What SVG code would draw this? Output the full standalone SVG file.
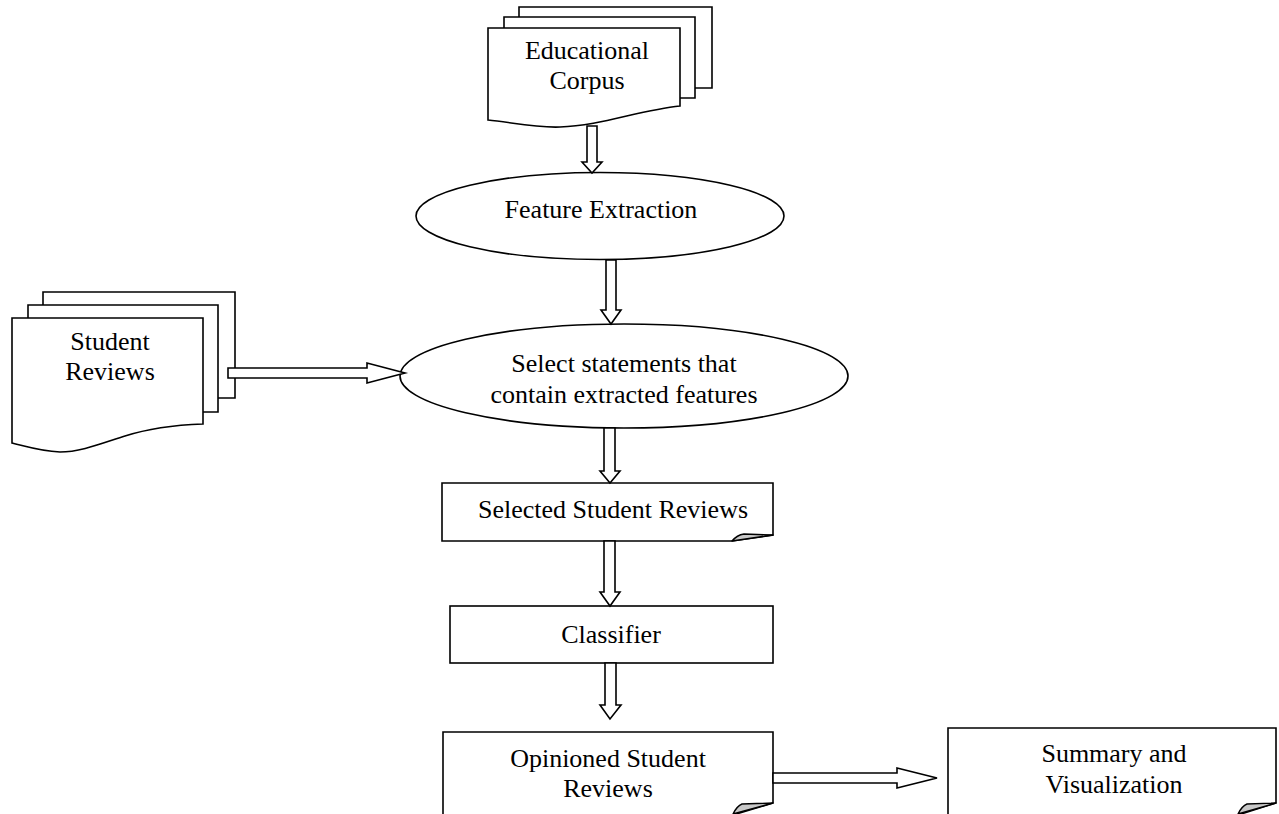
<svg xmlns="http://www.w3.org/2000/svg" width="1279" height="814" viewBox="0 0 1279 814">
<style>
.s{fill:#fff;stroke:#000;stroke-width:1.6;stroke-linejoin:miter}
.f{fill:#c8c8c8;stroke:#000;stroke-width:1.4;stroke-linejoin:round}
.a{fill:#fff;stroke:#000;stroke-width:1.6;stroke-linejoin:miter}
text{font-family:"Liberation Serif","Times New Roman",serif;font-size:26px;fill:#000;text-anchor:middle}
</style>
<rect width="1279" height="814" fill="#fff"/>
<g id="educational-corpus">
<path class="s" d="M519,7 H712 V88 H519 Z"/>
<path class="s" d="M504,17 H695 V98 H504 Z"/>
<path class="s" d="M488,28 H680 V106 C640,110 600,126 560,127 C535,128 510,122 488,120 Z"/>
<text x="587" y="59">Educational</text>
<text x="587" y="89">Corpus</text>
</g>
<g id="feature-extraction">
<ellipse class="s" cx="600" cy="216" rx="184" ry="43.5"/>
<text x="601" y="218">Feature Extraction</text>
</g>
<g id="student-reviews">
<path class="s" d="M43,292 H235 V398 H43 Z"/>
<path class="s" d="M28,305 H218 V412 H28 Z"/>
<path class="s" d="M12,318 H203 V424 C175,425 150,428 125,436 C100,444 80,452 60,452 C40,451 25,446 12,443 Z"/>
<text x="110" y="350">Student</text>
<text x="110" y="380">Reviews</text>
</g>
<g id="select-statements">
<ellipse class="s" cx="624" cy="376" rx="224" ry="52"/>
<text x="624" y="372">Select statements that</text>
<text x="624" y="403">contain extracted features</text>
</g>
<g id="selected-student-reviews">
<path class="s" d="M442,483 H773 V535 L732,541 H442 Z"/>
<path class="f" d="M732,541 Q737,535 744,534 L773,535 Z"/>
<text x="613" y="518">Selected Student Reviews</text>
</g>
<g id="classifier">
<rect class="s" x="450" y="606" width="323" height="57"/>
<text x="611" y="643">Classifier</text>
</g>
<g id="opinioned-student-reviews">
<path class="s" d="M443,732 H773 V803 L733,815 H443 Z"/>
<path class="f" d="M733,814 Q737,806 742,804 L773,803 Z"/>
<text x="608" y="767">Opinioned Student</text>
<text x="608" y="797">Reviews</text>
</g>
<g id="summary-visualization">
<path class="s" d="M948,728 H1276 V803 L1238,815 H948 Z"/>
<path class="f" d="M1238,814 Q1242,806 1247,804 L1276,803 Z"/>
<text x="1114" y="762">Summary and</text>
<text x="1114" y="793">Visualization</text>
</g>
<g id="connectors">
<path class="a" d="M587,126 H597 V162 H602 L592,173 L582,162 H587 Z"/>
<path class="a" d="M606,260 H616 V310 H621 L611,324 L601,310 H606 Z"/>
<path class="a" d="M228,368 H367 V363 L405,373 L367,383 V378 H228 Z"/>
<path class="a" d="M604,428 H615 V471 H620 L610,483 L600,471 H604 Z"/>
<path class="a" d="M604,541 H615 V592 H620 L610,606 L600,592 H604 Z"/>
<path class="a" d="M605,663 H616 V705 H621 L610,719 L600,705 H605 Z"/>
<path class="a" d="M773,773 H897 V768 L937,778 L897,788 V783 H773 Z"/>
</g>
</svg>
